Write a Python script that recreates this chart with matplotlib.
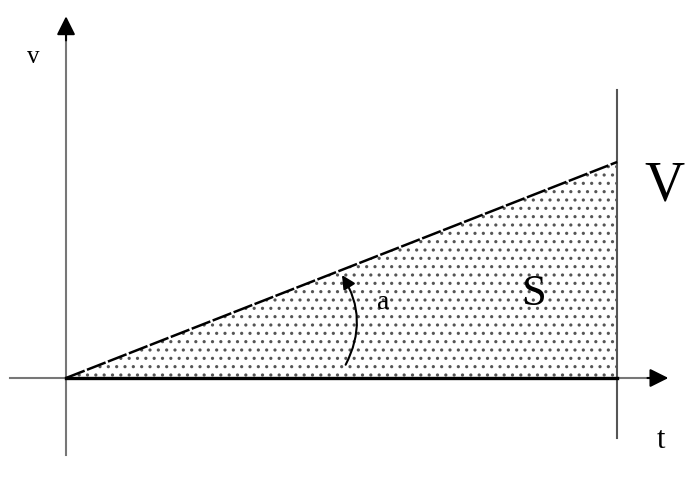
import matplotlib
matplotlib.use("Agg")
import matplotlib.pyplot as plt
from matplotlib.patches import FancyArrowPatch

# uniform motion from rest: v grows linearly up to V at t_end
t = [0, 10]
v = [0, 4.0]
labels = {"v": "v", "t": "t", "V": "V", "S": "S", "a": "a"}

plt.rcParams['font.family'] = ['Liberation Serif', 'DejaVu Serif']
plt.rcParams['hatch.linewidth'] = 1.1
plt.rcParams['hatch.color'] = '#555555'

fig = plt.figure(figsize=(6.91, 4.82), dpi=100)
ax = fig.add_axes([0, 0, 1, 1])
ax.set_xlim(-1.198, 11.34)
ax.set_ylim(-1.926, 7.0)
ax.set_axis_off()

# stippled area under the line
ax.fill_between(t, [0, 0], v, facecolor='white', edgecolor='none', hatch='..', linewidth=0)

# axes
ax.plot([0, 0], [-1.43, 6.45], color='#777777', lw=1.5)
ax.plot([-1.02, 10.7], [0, 0], color='#777777', lw=1.5)
ax.plot([t[1], t[1]], [-1.11, 5.33], color='#555555', lw=1.5)
ax.annotate('', xy=(0, 6.75), xytext=(0, 6.2),
            arrowprops=dict(arrowstyle='-|>', color='black', lw=1.5, mutation_scale=28))
ax.annotate('', xy=(10.98, 0), xytext=(10.5, 0),
            arrowprops=dict(arrowstyle='-|>', color='black', lw=1.5, mutation_scale=28))

# triangle edges
ax.plot(t, v, color='black', lw=1.8, dashes=(8, 1))
ax.plot(t, [0, 0], color='black', lw=2.4)

# angle arc
arc = FancyArrowPatch((5.05, 0.2), (4.98, 1.95), connectionstyle='arc3,rad=0.3',
                      arrowstyle='-|>', mutation_scale=20, color='black', lw=1.5)
ax.add_patch(arc)

ax.text(-0.6, 5.95, labels["v"], fontsize=18, ha='center', va='center')
ax.text(10.85, 3.55, labels["V"], fontsize=40, ha='center', va='center')
ax.text(8.5, 1.55, labels["S"], fontsize=32, ha='center', va='center')
ax.text(5.75, 1.4, labels["a"], fontsize=20, ha='center', va='center')
ax.text(10.8, -1.15, labels["t"], fontsize=22, ha='center', va='center')

fig.savefig('out.png', dpi=100)
